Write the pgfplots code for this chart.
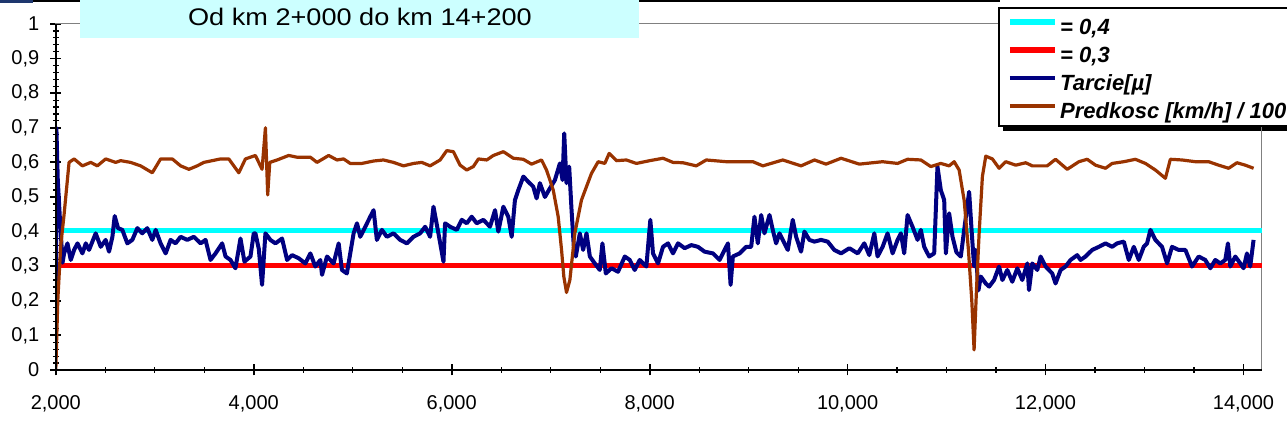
\documentclass[border=0pt]{standalone}
\usepackage{fontspec}
\setmainfont{Liberation Sans}
\usepackage{graphicx}
\usepackage{pgfplots}
\pgfplotsset{compat=1.18}
\definecolor{cyanline}{RGB}{0,255,255}
\definecolor{redline}{RGB}{255,0,0}
\definecolor{navyline}{RGB}{0,0,128}
\definecolor{brownline}{RGB}{153,51,0}
\definecolor{titlebg}{RGB}{204,255,255}
\definecolor{topblue}{RGB}{30,55,110}
\begin{document}
\begin{tikzpicture}
% legend shadow
\fill[black] (501.5pt,151pt) rectangle (700pt,205pt);
\begin{axis}[
  name=ax,
  at={(27.9pt,31.5pt)}, anchor=south west,
  scale only axis, width=603pt, height=173pt,
  xmin=2000, xmax=14185, ymin=0, ymax=1,
  scaled x ticks=false, scaled y ticks=false,
  xtick={2000,4000,6000,8000,10000,12000,14000},
  xticklabels={{2,000},{4,000},{6,000},{8,000},{10,000},{12,000},{14,000}},
  ytick={0,0.1,0.2,0.3,0.4,0.5,0.6,0.7,0.8,0.9,1},
  yticklabels={0,{0,1},{0,2},{0,3},{0,4},{0,5},{0,6},{0,7},{0,8},{0,9},1},
  minor x tick num=3, minor y tick num=4,
  xtick pos=bottom, ytick pos=left,
  tick align=center,
  major tick length=5.5pt, minor tick length=3pt,
  every major tick/.append style={black, line width=0.9pt},
  every minor tick/.append style={black, line width=0.6pt},
  axis line style={draw=black!50, line width=0.5pt},
  ticklabel style={font=\fontsize{10}{12}\selectfont, text=black},
  xticklabel style={yshift=-6.5pt},
  yticklabel style={xshift=-2pt},
  legend style={at={(0.7813,1.0491)}, anchor=north west, draw=black, line width=1pt, fill=white,
    font=\fontsize{11}{13}\selectfont\bfseries\itshape,
    inner xsep=4pt, inner ysep=2pt, row sep=1pt,
    nodes={inner sep=1.2pt, text height=10pt, text depth=0.6pt}},
  legend cell align=left,
  legend image code/.code={\draw[#1] (0pt,1.5pt) -- (22.5pt,1.5pt);},
]
\addplot[cyanline, line width=2.9pt] coordinates {(2055,0.403) (14200,0.403)};
\addlegendentry{= 0,4}
\addplot[redline, line width=2.8pt] coordinates {(2055,0.302) (14200,0.302)};
\addlegendentry{= 0,3}
\addplot[navyline, line width=2pt, line join=round] coordinates {
(2000,0.05) (2006,0.70) (2020,0.55) (2035,0.47) (2045,0.42) (2058,0.36) (2068,0.31)
(2084,0.337) (2118,0.366) (2151,0.318) (2185,0.347) (2219,0.366) (2269,0.337) (2303,0.366)
(2336,0.347) (2403,0.395) (2454,0.356) (2504,0.376) (2538,0.342) (2572,0.385) (2595,0.445)
(2629,0.41) (2672,0.405) (2723,0.366) (2773,0.376) (2824,0.41) (2874,0.395) (2924,0.41)
(2975,0.376) (3009,0.405) (3059,0.366) (3110,0.337) (3160,0.376) (3210,0.366) (3261,0.385)
(3328,0.376) (3395,0.385) (3463,0.366) (3513,0.376) (3563,0.318) (3614,0.337) (3681,0.366)
(3715,0.328) (3765,0.318) (3815,0.294) (3866,0.38) (3906,0.313) (3967,0.328) (4000,0.395)
(4017,0.395) (4051,0.35) (4084,0.246) (4118,0.395) (4168,0.376) (4219,0.366) (4286,0.38)
(4337,0.318) (4387,0.332) (4454,0.323) (4521,0.308) (4572,0.337) (4622,0.299) (4673,0.318)
(4690,0.275) (4740,0.328) (4807,0.308) (4858,0.366) (4891,0.289) (4941,0.279) (4975,0.337)
(5009,0.395) (5043,0.424) (5076,0.385) (5127,0.414) (5177,0.443) (5211,0.462) (5244,0.376)
(5295,0.405) (5345,0.385) (5412,0.395) (5480,0.376) (5547,0.366) (5614,0.385) (5681,0.395)
(5732,0.414) (5782,0.385) (5816,0.472) (5866,0.395) (5917,0.313) (5933,0.424) (5984,0.414)
(6051,0.405) (6102,0.434) (6152,0.424) (6202,0.443) (6253,0.424) (6320,0.434) (6387,0.414)
(6438,0.462) (6471,0.40) (6522,0.472) (6572,0.443) (6606,0.385) (6639,0.491) (6673,0.52)
(6724,0.559) (6774,0.544) (6824,0.53) (6858,0.496) (6891,0.54) (6942,0.50) (6992,0.525)
(7043,0.549) (7093,0.597) (7120,0.549) (7137,0.684) (7160,0.54) (7187,0.588) (7211,0.462)
(7234,0.356) (7254,0.328) (7295,0.395) (7328,0.347) (7362,0.395) (7396,0.328) (7446,0.308)
(7496,0.289) (7523,0.366) (7557,0.279) (7614,0.294) (7681,0.284) (7749,0.328) (7799,0.318)
(7849,0.289) (7900,0.318) (7967,0.299) (8007,0.434) (8034,0.337) (8085,0.308) (8135,0.356)
(8186,0.366) (8236,0.337) (8287,0.366) (8354,0.352) (8421,0.361) (8488,0.356) (8555,0.342)
(8640,0.337) (8707,0.318) (8791,0.366) (8818,0.246) (8841,0.328) (8909,0.337) (8976,0.356)
(9026,0.356) (9059,0.443) (9093,0.366) (9127,0.448) (9160,0.395) (9211,0.448) (9244,0.405)
(9278,0.366) (9312,0.395) (9345,0.376) (9396,0.347) (9446,0.434) (9480,0.385) (9530,0.342)
(9564,0.40) (9614,0.376) (9665,0.371) (9732,0.376) (9799,0.371) (9866,0.347) (9934,0.337)
(10018,0.352) (10102,0.337) (10169,0.366) (10219,0.332) (10270,0.395) (10303,0.328) (10354,0.356)
(10404,0.395) (10455,0.337) (10505,0.376) (10539,0.395) (10572,0.337) (10606,0.448) (10656,0.414)
(10707,0.376) (10740,0.405) (10774,0.356) (10824,0.328) (10875,0.337) (10908,0.588) (10942,0.52)
(10976,0.491) (10993,0.337) (11026,0.453) (11060,0.385) (11100,0.34) (11144,0.328) (11178,0.405)
(11228,0.515) (11255,0.395) (11278,0.30) (11295,0.347) (11322,0.23) (11346,0.27) (11396,0.25)
(11430,0.241) (11480,0.26) (11530,0.299) (11564,0.26) (11614,0.289) (11664,0.255) (11715,0.294)
(11765,0.26) (11816,0.308) (11833,0.231) (11866,0.308) (11917,0.289) (11950,0.328) (12001,0.299)
(12068,0.279) (12101,0.25) (12152,0.289) (12202,0.299) (12253,0.318) (12320,0.332) (12354,0.318)
(12404,0.328) (12471,0.347) (12539,0.356) (12606,0.366) (12673,0.356) (12723,0.366) (12791,0.371)
(12841,0.318) (12892,0.356) (12942,0.318) (12992,0.356) (13026,0.366) (13060,0.405) (13110,0.376)
(13177,0.356) (13228,0.308) (13278,0.356) (13345,0.347) (13413,0.347) (13480,0.299) (13547,0.328)
(13614,0.318) (13665,0.294) (13715,0.318) (13766,0.308) (13816,0.318) (13843,0.366) (13867,0.299)
(13917,0.328) (13968,0.308) (14001,0.294) (14035,0.337) (14068,0.299) (14102,0.376)
};
\addlegendentry{Tarcie[µ]}
\addplot[brownline, line width=1.6pt, line join=round] coordinates {
(2000,0.0) (2020,0.20) (2050,0.36) (2084,0.45) (2134,0.60) (2185,0.61) (2269,0.59) (2353,0.60)
(2420,0.59) (2504,0.61) (2605,0.60) (2655,0.605) (2756,0.60) (2857,0.59) (2975,0.57) (3059,0.61)
(3177,0.61) (3261,0.59) (3345,0.58) (3429,0.59) (3496,0.60) (3664,0.61) (3748,0.61) (3849,0.57)
(3916,0.61) (4017,0.62) (4084,0.58) (4118,0.70) (4141,0.506) (4162,0.60) (4236,0.607) (4353,0.62)
(4437,0.615) (4572,0.615) (4639,0.60) (4757,0.62) (4841,0.607) (4908,0.61) (4975,0.597) (5093,0.597)
(5211,0.604) (5311,0.607) (5412,0.60) (5513,0.59) (5614,0.597) (5698,0.60) (5782,0.59) (5883,0.607)
(5950,0.634) (6017,0.631) (6085,0.592) (6152,0.578) (6219,0.588) (6270,0.61) (6354,0.607) (6421,0.62)
(6522,0.631) (6623,0.612) (6723,0.609) (6807,0.595) (6908,0.607) (6958,0.578) (7026,0.52) (7076,0.443)
(7110,0.347) (7133,0.27) (7160,0.224) (7194,0.26) (7244,0.395) (7311,0.491) (7362,0.53) (7412,0.568)
(7480,0.602) (7547,0.597) (7591,0.626) (7665,0.605) (7765,0.607) (7866,0.597) (8001,0.605) (8135,0.612)
(8236,0.60) (8337,0.599) (8471,0.59) (8572,0.607) (8774,0.602) (9043,0.602) (9144,0.59) (9345,0.607)
(9530,0.59) (9665,0.607) (9782,0.595) (9934,0.612) (10118,0.595) (10354,0.602) (10505,0.597) (10606,0.609)
(10740,0.607) (10841,0.588) (10942,0.597) (11026,0.59) (11077,0.602) (11127,0.578) (11178,0.49) (11221,0.347)
(11255,0.20) (11278,0.058) (11302,0.23) (11329,0.395) (11362,0.559) (11396,0.618) (11463,0.61) (11531,0.583)
(11598,0.602) (11699,0.592) (11800,0.599) (11866,0.59) (12017,0.59) (12101,0.609) (12219,0.58) (12337,0.602)
(12421,0.609) (12505,0.592) (12606,0.583) (12673,0.597) (12791,0.602) (12908,0.609) (13009,0.597) (13110,0.578)
(13211,0.554) (13261,0.609) (13379,0.607) (13514,0.602) (13648,0.602) (13749,0.592) (13850,0.583) (13934,0.599)
(14018,0.592) (14102,0.583)
};
\addlegendentry{Predkosc [km/h] / 100}
\end{axis}
\draw[black, line width=1.2pt] (ax.north west) -- (ax.south west) -- (ax.south east);
% top strip of the slide
\fill[topblue] (0pt,216.5pt) rectangle (16.5pt,215pt);
\fill[black] (16.5pt,216.5pt) rectangle (500pt,215.3pt);
% title box
\fill[titlebg] (40pt,197.5pt) rectangle (319.5pt,216.5pt);
\node[font=\fontsize{12}{14}\selectfont, text=black] at (180pt,208pt) {\scalebox{1.13}[1]{Od km 2+000 do km 14+200}};
\pgfresetboundingbox
\useasboundingbox (0pt,0pt) rectangle (643.5pt,216.5pt);
\end{tikzpicture}
\end{document}
